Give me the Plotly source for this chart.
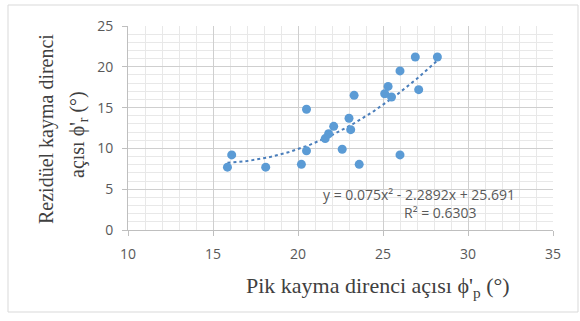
import numpy as np
import plotly.graph_objects as go

# Peak vs residual shear strength angles (degrees)
peak_angle = [15.85, 16.1, 18.1, 20.2, 20.5, 20.5, 21.6, 21.8, 22.1, 22.6, 23.0,
              23.1, 23.3, 23.6, 25.1, 25.3, 25.5, 26.0, 26.0, 26.9, 27.1, 28.2]
residual_angle = [7.7, 9.2, 7.7, 8.05, 14.8, 9.7, 11.2, 11.8, 12.7, 9.9, 13.7,
                  12.3, 16.5, 8.05, 16.7, 17.6, 16.3, 19.5, 9.2, 21.2, 17.2, 21.2]

# Second-order trendline coefficients and fit quality
trend_coef = [0.075, -2.2892, 25.691]
r_squared = 0.6303

x_ticks = [10, 15, 20, 25, 30, 35]
y_ticks = [0, 5, 10, 15, 20, 25]

W, H = 580, 321
L, R, T, B = 128, 27, 26, 91
PW, PH = W - L - R, H - T - B


def px(xp):
    return (xp - L) / PW


def py(yp):
    return (H - B - yp) / PH


x_fit = np.linspace(min(peak_angle), max(peak_angle), 120)
y_fit = np.polyval(trend_coef, x_fit)

fig = go.Figure()
fig.add_trace(go.Scatter(
    x=x_fit, y=y_fit, mode="lines",
    line=dict(color="#4a7ebb", width=2, dash="dot"),
    hoverinfo="skip", showlegend=False,
))
fig.add_trace(go.Scatter(
    x=peak_angle, y=residual_angle, mode="markers",
    marker=dict(color="#5b9bd5", size=9, line=dict(width=0)),
    showlegend=False,
))

tick_font = dict(family="Open Sans, Liberation Sans, sans-serif", size=14, color="#595959")
label_font = dict(family="Open Sans, sans-serif", size=14, color="#595959")
title_font_y = dict(family="Liberation Serif, Times New Roman, serif", size=20, color="#404040")
title_font_x = dict(family="Liberation Serif, Times New Roman, serif", size=22, color="#404040")

common_axis = dict(
    showgrid=True, gridcolor="#cfcfcf", gridwidth=1,
    minor=dict(dtick=1, showgrid=True, gridcolor="#e8e8e8", gridwidth=1),
    zeroline=False, showline=True, linecolor="#bfbfbf", linewidth=1,
    ticks="outside", ticklen=5, tickcolor="#bfbfbf",
    tickfont=tick_font, fixedrange=True,
)
fig.update_xaxes(range=[10, 35], tickvals=x_ticks,
                 ticktext=[str(v) for v in x_ticks],
                 ticklabelstandoff=6, **common_axis)
fig.update_yaxes(range=[0, 25], tickvals=y_ticks,
                 ticktext=[str(v) for v in y_ticks],
                 ticklabelstandoff=6, **common_axis)

eq_text = "y = %gx² - %gx + %g" % (trend_coef[0], -trend_coef[1], trend_coef[2])
annotations = [
    dict(x=27.1, y=4.3, xref="x", yref="y", text=eq_text, showarrow=False,
         font=label_font, xanchor="center", yanchor="middle"),
    dict(x=28.4, y=2.1, xref="x", yref="y", text="R² = %.4f" % r_squared,
         showarrow=False, font=label_font, xanchor="center", yanchor="middle"),
    dict(x=px(46), y=py(129), xref="paper", yref="paper",
         text="Rezidüel kayma direnci", textangle=-90, showarrow=False,
         font=title_font_y, xanchor="center", yanchor="middle"),
    dict(x=px(78), y=py(135), xref="paper", yref="paper",
         text="açısı ϕ'<sub>r</sub> (°)", textangle=-90, showarrow=False,
         font=title_font_y, xanchor="center", yanchor="middle"),
    dict(x=px(378), y=py(287), xref="paper", yref="paper",
         text="Pik kayma direnci açısı ϕ'<sub>p</sub> (°)", showarrow=False,
         font=title_font_x, xanchor="center", yanchor="middle"),
]

fig.update_layout(
    width=W, height=H,
    margin=dict(l=L, r=R, t=T, b=B),
    paper_bgcolor="white", plot_bgcolor="white",
    annotations=annotations,
    shapes=[dict(type="rect", xref="paper", yref="paper",
                 x0=px(8), x1=px(578), y0=py(312), y1=py(5),
                 line=dict(color="#d9d9d9", width=1), layer="below")],
)

fig.write_html("out.html")
